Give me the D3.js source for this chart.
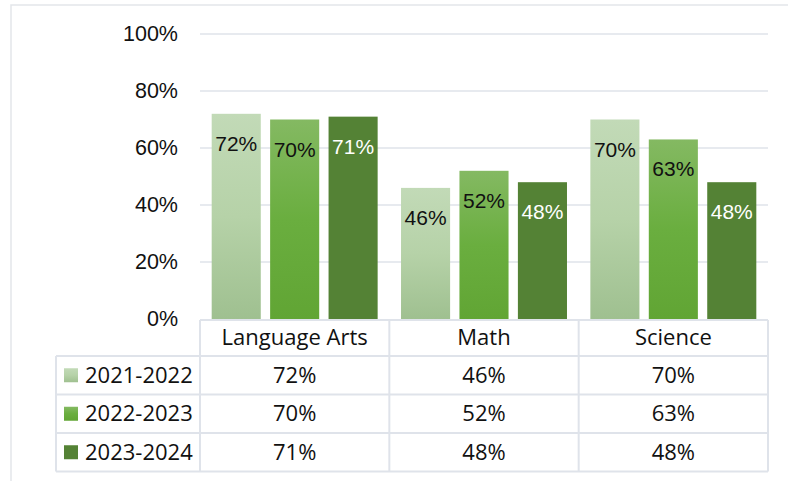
<!DOCTYPE html>
<html>
<head>
<meta charset="utf-8">
<script src="https://cdn.jsdelivr.net/npm/d3@7"></script>
<style>
body { margin: 0; background: #ffffff; }
svg text { font-family: "Liberation Sans", Arial, sans-serif; }
.tbl text { font-family: "Open Sans", "Noto Sans", sans-serif; }
</style>
</head>
<body>
<div id="chart"></div>
<script>
var categories = ["Language Arts", "Math", "Science"];
var seriesNames = ["2021-2022", "2022-2023", "2023-2024"];
var series1 = [72, 46, 70];
var series2 = [70, 52, 63];
var series3 = [71, 48, 48];
var yTicks = [0, 20, 40, 60, 80, 100];

var values = [series1, series2, series3];
var width = 788, height = 481;
var margin = {left: 200, right: 20, top: 34, bottom: 162};
var grid = "#dfe3ea";

var svg = d3.select("#chart").append("svg")
	.attr("width", width)
	.attr("height", height);

var defs = svg.append("defs");
var g1 = defs.append("linearGradient").attr("id", "grad1")
	.attr("x1", 0).attr("y1", 0).attr("x2", 0).attr("y2", 1);
g1.append("stop").attr("offset", "0%").attr("stop-color", "#c2dab7");
g1.append("stop").attr("offset", "50%").attr("stop-color", "#b6d2a8");
g1.append("stop").attr("offset", "100%").attr("stop-color", "#9fc090");
var g2 = defs.append("linearGradient").attr("id", "grad2")
	.attr("x1", 0).attr("y1", 0).attr("x2", 0).attr("y2", 1);
g2.append("stop").attr("offset", "0%").attr("stop-color", "#84b962");
g2.append("stop").attr("offset", "50%").attr("stop-color", "#6aae3f");
g2.append("stop").attr("offset", "100%").attr("stop-color", "#61a534");
var fills = ["url(#grad1)", "url(#grad2)", "#548235"];
var labelColors = ["#111111", "#111111", "#ffffff"];

// outer frame
svg.append("rect")
	.attr("x", 11).attr("y", 5)
	.attr("width", 800).attr("height", 500)
	.attr("fill", "none")
	.attr("stroke", "#e3e6ea")
	.attr("stroke-width", 1.5);

var plotW = width - margin.left - margin.right;
var plotH = height - margin.top - margin.bottom;

var x = d3.scaleBand()
	.domain(categories)
	.range([margin.left, margin.left + plotW]);

var xInner = d3.scaleBand()
	.domain(d3.range(seriesNames.length))
	.range([0, x.bandwidth()])
	.paddingInner(0.16)
	.paddingOuter(0.2);

var y = d3.scaleLinear()
	.domain([0, 100])
	.range([margin.top + plotH, margin.top]);

// gridlines
svg.append("g")
	.selectAll("line")
	.data(yTicks.filter(function(d) { return d > 0; }))
	.enter()
	.append("line")
	.attr("x1", margin.left)
	.attr("x2", margin.left + plotW)
	.attr("y1", function(d) { return y(d); })
	.attr("y2", function(d) { return y(d); })
	.attr("stroke", grid)
	.attr("stroke-width", 1.5);

// y axis
var yAxis = d3.axisLeft(y)
	.tickValues(yTicks)
	.tickSize(0)
	.tickPadding(22)
	.tickFormat(function(d) { return d + "%"; });
var ya = svg.append("g")
	.attr("transform", "translate(" + margin.left + ",0)")
	.call(yAxis);
ya.select(".domain").remove();
ya.selectAll("text")
	.attr("font-size", "21.5px")
	.attr("fill", "#111111")
	.style("font-family", "'Liberation Sans', Arial, sans-serif");

// bars
for (var s = 0; s < values.length; s++) {
	var bars = svg.append("g").attr("class", "series_" + s);
	bars.selectAll("rect")
		.data(values[s])
		.enter()
		.append("rect")
		.attr("x", function(d, i) { return x(categories[i]) + xInner(s); })
		.attr("y", function(d) { return y(d); })
		.attr("width", xInner.bandwidth())
		.attr("height", function(d) { return y(0) - y(d); })
		.attr("fill", fills[s]);
	bars.selectAll("text")
		.data(values[s])
		.enter()
		.append("text")
		.attr("x", function(d, i) { return x(categories[i]) + xInner(s) + xInner.bandwidth() / 2; })
		.attr("y", function(d) { return y(d) + 37; })
		.attr("text-anchor", "middle")
		.attr("font-size", "21px")
		.attr("fill", labelColors[s])
		.text(function(d) { return d + "%"; });
}

// data table
var tbl = svg.append("g").attr("class", "tbl");
var rowTop = y(0) + 1;
var headerH = 36;
var rowH = 38.5;
var tableLeft = 56;
var tableBottom = rowTop + headerH + rowH * seriesNames.length;

tbl.append("line")
	.attr("x1", margin.left).attr("x2", margin.left + plotW)
	.attr("y1", rowTop).attr("y2", rowTop)
	.attr("stroke", grid).attr("stroke-width", 2);
for (var r = 0; r <= seriesNames.length; r++) {
	var yy = rowTop + headerH + r * rowH;
	tbl.append("line")
		.attr("x1", tableLeft).attr("x2", margin.left + plotW)
		.attr("y1", yy).attr("y2", yy)
		.attr("stroke", grid).attr("stroke-width", 2);
}
tbl.append("line")
	.attr("x1", tableLeft).attr("x2", tableLeft)
	.attr("y1", rowTop + headerH).attr("y2", tableBottom)
	.attr("stroke", grid).attr("stroke-width", 2);
var colEdges = categories.map(function(c) { return x(c); }).concat([margin.left + plotW]);
tbl.selectAll("line.col")
	.data(colEdges)
	.enter()
	.append("line")
	.attr("class", "col")
	.attr("x1", function(d) { return d; }).attr("x2", function(d) { return d; })
	.attr("y1", rowTop).attr("y2", tableBottom)
	.attr("stroke", grid).attr("stroke-width", 2);

tbl.selectAll("text.head")
	.data(categories)
	.enter()
	.append("text")
	.attr("class", "head")
	.attr("x", function(d) { return x(d) + x.bandwidth() / 2; })
	.attr("y", rowTop + headerH / 2 + 7)
	.attr("text-anchor", "middle")
	.attr("font-size", "22px")
	.attr("fill", "#111111")
	.text(function(d) { return d; });

for (var s = 0; s < seriesNames.length; s++) {
	var cy = rowTop + headerH + s * rowH + rowH / 2;
	tbl.append("rect")
		.attr("x", 64).attr("y", cy - 7)
		.attr("width", 14).attr("height", 14)
		.attr("fill", fills[s]);
	tbl.append("text")
		.attr("x", 85).attr("y", cy + 7.5)
		.attr("font-size", "22px")
		.attr("fill", "#111111")
		.text(seriesNames[s]);
	tbl.selectAll("text.v" + s)
		.data(values[s])
		.enter()
		.append("text")
		.attr("class", "v" + s)
		.attr("x", function(d, i) { return x(categories[i]) + x.bandwidth() / 2; })
		.attr("y", cy + 7.5)
		.attr("text-anchor", "middle")
		.attr("font-size", "22px")
		.attr("fill", "#111111")
		.text(function(d) { return d + "%"; });
}
</script>
</body>
</html>
